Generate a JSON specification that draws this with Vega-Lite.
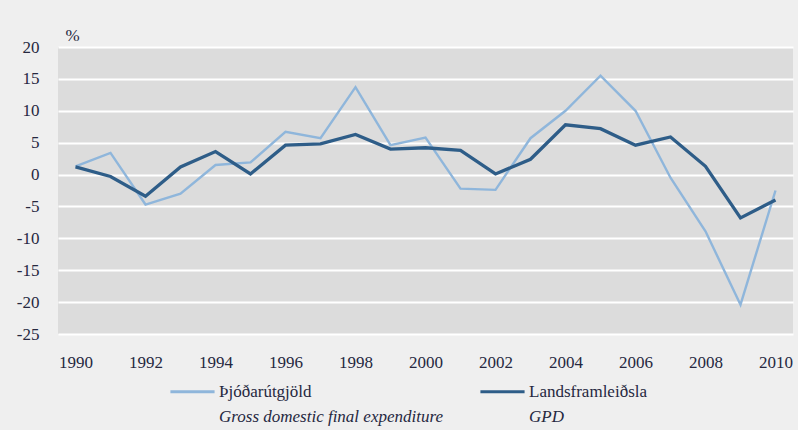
{
  "$schema": "https://vega.github.io/schema/vega-lite/v6.json",
  "width": 735,
  "height": 287,
  "autosize": {"type": "none"},
  "padding": {"left": 58, "top": 47, "right": 5, "bottom": 96},
  "background": "#efefef",
  "config": {
    "font": "Liberation Serif, Times New Roman, serif",
    "view": {"fill": "#dcdcdc", "stroke": null},
    "legend": {"labelFont": "Liberation Serif, Times New Roman, serif"},
    "axis": {"labelFont": "Liberation Serif, Times New Roman, serif", "titleFont": "Liberation Serif, Times New Roman, serif"}
  },
  "data": {
    "values": [
      {"year": 1990, "value": 1.3, "series": "Þjóðarútgjöld"},
      {"year": 1991, "value": 3.4, "series": "Þjóðarútgjöld"},
      {"year": 1992, "value": -4.7, "series": "Þjóðarútgjöld"},
      {"year": 1993, "value": -3.0, "series": "Þjóðarútgjöld"},
      {"year": 1994, "value": 1.5, "series": "Þjóðarútgjöld"},
      {"year": 1995, "value": 1.9, "series": "Þjóðarútgjöld"},
      {"year": 1996, "value": 6.7, "series": "Þjóðarútgjöld"},
      {"year": 1997, "value": 5.7, "series": "Þjóðarútgjöld"},
      {"year": 1998, "value": 13.7, "series": "Þjóðarútgjöld"},
      {"year": 1999, "value": 4.6, "series": "Þjóðarútgjöld"},
      {"year": 2000, "value": 5.8, "series": "Þjóðarútgjöld"},
      {"year": 2001, "value": -2.2, "series": "Þjóðarútgjöld"},
      {"year": 2002, "value": -2.4, "series": "Þjóðarútgjöld"},
      {"year": 2003, "value": 5.7, "series": "Þjóðarútgjöld"},
      {"year": 2004, "value": 10.0, "series": "Þjóðarútgjöld"},
      {"year": 2005, "value": 15.5, "series": "Þjóðarútgjöld"},
      {"year": 2006, "value": 10.0, "series": "Þjóðarútgjöld"},
      {"year": 2007, "value": -0.5, "series": "Þjóðarútgjöld"},
      {"year": 2008, "value": -8.9, "series": "Þjóðarútgjöld"},
      {"year": 2009, "value": -20.4, "series": "Þjóðarútgjöld"},
      {"year": 2010, "value": -2.5, "series": "Þjóðarútgjöld"},
      {"year": 1990, "value": 1.2, "series": "Landsframleiðsla"},
      {"year": 1991, "value": -0.3, "series": "Landsframleiðsla"},
      {"year": 1992, "value": -3.4, "series": "Landsframleiðsla"},
      {"year": 1993, "value": 1.2, "series": "Landsframleiðsla"},
      {"year": 1994, "value": 3.6, "series": "Landsframleiðsla"},
      {"year": 1995, "value": 0.1, "series": "Landsframleiðsla"},
      {"year": 1996, "value": 4.6, "series": "Landsframleiðsla"},
      {"year": 1997, "value": 4.8, "series": "Landsframleiðsla"},
      {"year": 1998, "value": 6.3, "series": "Landsframleiðsla"},
      {"year": 1999, "value": 4.0, "series": "Landsframleiðsla"},
      {"year": 2000, "value": 4.2, "series": "Landsframleiðsla"},
      {"year": 2001, "value": 3.8, "series": "Landsframleiðsla"},
      {"year": 2002, "value": 0.1, "series": "Landsframleiðsla"},
      {"year": 2003, "value": 2.4, "series": "Landsframleiðsla"},
      {"year": 2004, "value": 7.8, "series": "Landsframleiðsla"},
      {"year": 2005, "value": 7.2, "series": "Landsframleiðsla"},
      {"year": 2006, "value": 4.6, "series": "Landsframleiðsla"},
      {"year": 2007, "value": 5.9, "series": "Landsframleiðsla"},
      {"year": 2008, "value": 1.3, "series": "Landsframleiðsla"},
      {"year": 2009, "value": -6.8, "series": "Landsframleiðsla"},
      {"year": 2010, "value": -4.0, "series": "Landsframleiðsla"}
    ]
  },
  "mark": {"type": "line", "strokeJoin": "miter"},
  "encoding": {
    "x": {
      "field": "year",
      "type": "quantitative",
      "scale": {"domain": [1989.5, 2010.5], "nice": false, "zero": false},
      "axis": {
        "title": null,
        "values": [1990, 1992, 1994, 1996, 1998, 2000, 2002, 2004, 2006, 2008, 2010],
        "format": "d",
        "grid": false,
        "ticks": false,
        "domain": false,
        "labelPadding": 20,
        "labelFontSize": 17,
        "labelColor": "#26283f"
      }
    },
    "y": {
      "field": "value",
      "type": "quantitative",
      "scale": {"domain": [-25, 20], "nice": false},
      "axis": {
        "title": "%",
        "titleAngle": 0,
        "titleAlign": "left",
        "titleBaseline": "middle",
        "titleX": 7,
        "titleY": -12,
        "titleFontSize": 17,
        "titleFontWeight": "normal",
        "titleColor": "#26283f",
        "values": [-25, -20, -15, -10, -5, 0, 5, 10, 15, 20],
        "labelExpr": "'' + datum.value",
        "grid": true,
        "gridColor": "#ffffff",
        "gridWidth": 2,
        "gridOpacity": 1,
        "ticks": false,
        "domain": false,
        "labelPadding": 19,
        "labelFontSize": 17,
        "labelColor": "#26283f"
      }
    },
    "color": {
      "field": "series",
      "type": "nominal",
      "scale": {
        "domain": ["Þjóðarútgjöld", "Landsframleiðsla", "Gross domestic final expenditure", "GPD"],
        "range": ["#8fb6db", "#2e5d88", "transparent", "transparent"]
      },
      "legend": {
        "title": null,
        "orient": "none",
        "legendX": 126,
        "legendY": 336,
        "direction": "horizontal",
        "columns": 2,
        "columnPadding": 31,
        "rowPadding": 7,
        "padding": 0,
        "symbolType": "M-5,0H5",
        "symbolSize": 78,
        "symbolStrokeWidth": 3,
        "labelOffset": 18,
        "labelLimit": 400,
        "labelFontSize": 17,
        "labelColor": "#26283f",
        "encode": {
          "labels": {
            "update": {
              "fontStyle": {"signal": "indexof(['Gross domestic final expenditure', 'GPD'], datum.value) >= 0 ? 'italic' : 'normal'"}
            }
          }
        }
      }
    },
    "strokeWidth": {
      "field": "series",
      "type": "nominal",
      "scale": {"domain": ["Þjóðarútgjöld", "Landsframleiðsla"], "range": [2.4, 3.3]},
      "legend": null
    }
  }
}
